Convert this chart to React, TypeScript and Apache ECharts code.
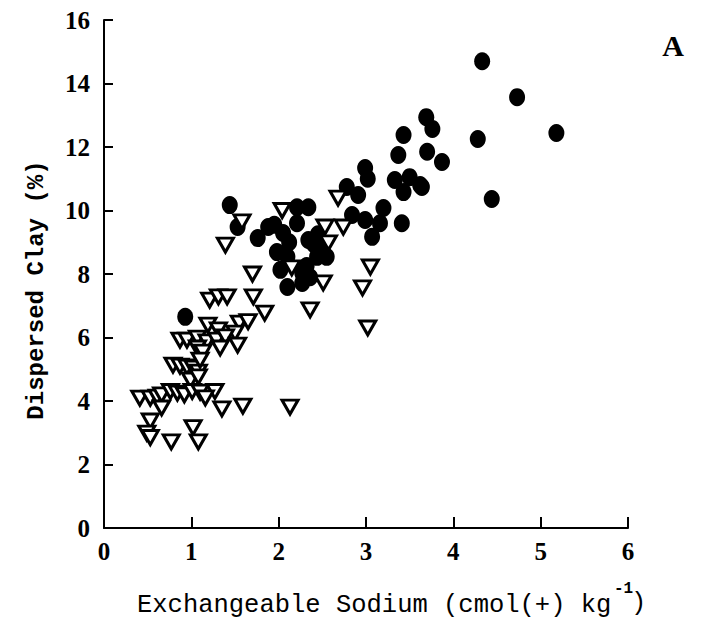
import React, { useEffect, useRef } from "react";
import * as echarts from "echarts";

// Filled circles: exchangeable sodium (x) and dispersed clay (y)
const circleSodium = [
  0.93, 1.44, 1.53, 1.76, 1.88, 2.05, 2.21, 2.34, 2.21, 2.34, 1.98, 2.1, 2.44, 2.55, 2.02, 2.27,
  2.1, 2.27, 2.36, 2.47, 2.12, 2.45, 2.78, 2.91, 2.84, 2.99, 3.2, 3.16, 3.07, 3.41, 2.99, 3.02,
  3.33, 3.5, 3.62, 3.43, 3.37, 3.43, 3.69, 3.76, 3.7, 3.87, 3.64, 4.28, 4.33, 4.73, 5.18, 4.44,
  2.32, 2.4, 1.95,
];
const circleClay = [
  6.65, 10.17, 9.48, 9.13, 9.48, 9.29, 10.1, 10.1, 9.6, 9.07, 8.69, 8.54, 8.54, 8.54, 8.13, 8.03,
  7.59, 7.72, 7.9, 8.76, 9.0, 9.25, 10.74, 10.49, 9.86, 9.7, 10.08, 9.6, 9.17, 9.6, 11.34, 11.0,
  10.96, 11.05, 10.8, 10.58, 11.75, 12.38, 12.94, 12.57, 11.85, 11.53, 10.74, 12.25, 14.7, 13.57, 12.44, 10.36,
  8.25, 8.95, 9.55,
];

// Open inverted triangles
const triangleSodium = [
  2.68, 2.53, 2.74, 2.57, 2.51, 3.05, 2.96, 2.36, 3.02, 2.15, 2.04, 1.58, 1.39, 1.7, 1.71, 1.21,
  1.31, 1.41, 1.84, 1.19, 1.31, 1.55, 1.65, 1.5, 0.87, 0.95, 1.07, 1.18, 1.29, 1.39, 1.53, 1.07,
  1.13, 1.33, 0.79, 0.87, 0.95, 1.02, 1.08, 1.1, 0.99, 1.08, 0.41, 0.53, 0.61, 0.66, 0.76, 0.66,
  0.84, 0.92, 1.01, 1.1, 1.27, 1.16, 1.35, 1.59, 0.53, 0.49, 0.53, 0.77, 1.02, 1.08, 2.13,
];
const triangleClay = [
  10.39, 9.48, 9.48, 8.98, 7.72, 8.22, 7.56, 6.87, 6.3, 8.19, 10.0, 9.64, 8.91, 8.0, 7.28, 7.18,
  7.28, 7.28, 6.77, 6.39, 6.24, 6.45, 6.5, 6.14, 5.92, 5.92, 5.98, 5.86, 5.92, 6.02, 5.76, 5.67,
  5.54, 5.67, 5.13, 5.1, 5.07, 5.04, 4.91, 5.29, 4.66, 4.76, 4.09, 4.09, 4.12, 4.19, 4.3, 3.78,
  4.25, 4.19, 4.3, 4.28, 4.3, 4.1, 3.75, 3.84, 3.37, 2.99, 2.85, 2.71, 3.16, 2.71, 3.81,
];

const xAxisTitle = "Exchangeable Sodium (cmol(+) kg";
const xAxisSup = "-1";
const yAxisTitle = "Dispersed Clay (%)";
const panelLabel = "A";

export default function App() {
  const ref = useRef<HTMLDivElement>(null);
  useEffect(() => {
    const chart = echarts.init(ref.current!, null, { renderer: "svg" });
    const circles = circleSodium.map((x, i) => [x, circleClay[i]]);
    const triangles = triangleSodium.map((x, i) => [x, triangleClay[i]]);
    const labelStyle = {
      color: "#000",
      fontFamily: "Liberation Serif",
      fontWeight: "bold" as const,
      fontSize: 25,
    };
    chart.setOption({
      animation: false,
      backgroundColor: "#fff",
      grid: { left: 104, right: 80, top: 20, bottom: 99, containLabel: false },
      xAxis: {
        type: "value",
        min: 0,
        max: 6,
        interval: 1,
        axisLine: { show: true, lineStyle: { color: "#000", width: 2 } },
        axisTick: { show: true, inside: true, length: 11, lineStyle: { color: "#000", width: 2 } },
        axisLabel: { ...labelStyle, margin: 11 },
        splitLine: { show: false },
      },
      yAxis: {
        type: "value",
        min: 0,
        max: 16,
        interval: 2,
        axisLine: { show: true, lineStyle: { color: "#000", width: 2 } },
        axisTick: { show: true, inside: true, length: 9, lineStyle: { color: "#000", width: 2 } },
        axisLabel: { ...labelStyle, margin: 14 },
        splitLine: { show: false },
      },
      graphic: [
        {
          type: "text",
          x: 36,
          y: 290,
          rotation: Math.PI / 2,
          style: {
            text: yAxisTitle,
            fill: "#000",
            font: 'bold 24px "Liberation Mono"',
            align: "center",
            verticalAlign: "middle",
          },
        },
        {
          type: "text",
          x: 137,
          y: 605,
          style: {
            text: xAxisTitle,
            fill: "#000",
            font: '25.5px "Liberation Mono"',
            align: "left",
            verticalAlign: "middle",
          },
        },
        {
          type: "text",
          x: 614,
          y: 589,
          style: {
            text: xAxisSup,
            fill: "#000",
            font: 'bold 16px "Liberation Mono"',
            align: "left",
            verticalAlign: "middle",
          },
        },
        {
          type: "text",
          x: 631,
          y: 603,
          style: {
            text: ")",
            fill: "#000",
            font: '25.5px "Liberation Mono"',
            align: "left",
            verticalAlign: "middle",
          },
        },
        {
          type: "text",
          x: 673,
          y: 45,
          style: {
            text: panelLabel,
            fill: "#000",
            font: 'bold 30px "Liberation Serif"',
            align: "center",
            verticalAlign: "middle",
          },
        },
      ],
      series: [
        {
          type: "scatter",
          data: circles,
          symbol: "circle",
          symbolSize: [16, 18],
          itemStyle: { color: "#000", opacity: 1 },
          z: 2,
        },
        {
          type: "scatter",
          data: triangles,
          symbol: "triangle",
          symbolRotate: 180,
          symbolSize: [16, 14],
          itemStyle: { color: "#fff", borderColor: "#000", borderWidth: 3, opacity: 1 },
          z: 3,
        },
      ],
    });
    return () => chart.dispose();
  }, []);
  return (
    <div
      ref={ref}
      style={{ position: "fixed", left: 0, top: 0, width: 708, height: 627 }}
    />
  );
}
